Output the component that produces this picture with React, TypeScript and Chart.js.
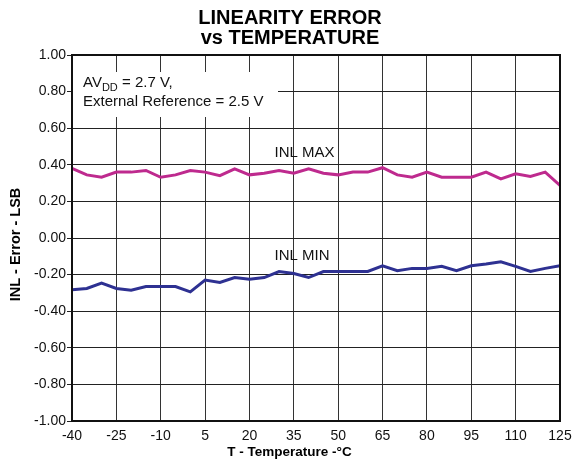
import { useEffect, useRef } from "react";
import { Chart, registerables } from "chart.js";

Chart.register(...registerables);

const TEMPS = [-40, -35, -30, -25, -20, -15, -10, -5, 0, 5, 10, 15, 20, 25, 30, 35, 40, 45, 50, 55, 60, 65, 70, 75, 80, 85, 90, 95, 100, 105, 110, 115, 120, 125];
const INL_MAX = [0.38, 0.345, 0.332, 0.36, 0.36, 0.369, 0.332, 0.345, 0.369, 0.36, 0.341, 0.378, 0.345, 0.354, 0.369, 0.354, 0.378, 0.354, 0.345, 0.36, 0.36, 0.384, 0.345, 0.332, 0.36, 0.332, 0.332, 0.332, 0.36, 0.323, 0.351, 0.336, 0.36, 0.287];
const INL_MIN = [-0.283, -0.276, -0.247, -0.276, -0.285, -0.265, -0.265, -0.265, -0.294, -0.23, -0.243, -0.216, -0.225, -0.216, -0.183, -0.194, -0.216, -0.183, -0.183, -0.183, -0.183, -0.152, -0.179, -0.166, -0.166, -0.155, -0.179, -0.152, -0.142, -0.13, -0.155, -0.183, -0.166, -0.152];
const X_TICKS = [-40, -25, -10, 5, 20, 35, 50, 65, 80, 95, 110, 125];
const Y_TICKS = [-1, -0.8, -0.6, -0.4, -0.2, 0, 0.2, 0.4, 0.6, 0.8, 1];
const TITLE_LINES = ["LINEARITY ERROR", "vs TEMPERATURE"];
const X_TITLE = "T - Temperature -°C";
const Y_TITLE = "INL - Error - LSB";
const SERIES_NAMES = ["INL MAX", "INL MIN"];

const FONT = "'Liberation Sans', Arial, Helvetica, sans-serif";

const annotPlugin = {
  id: "annot",
  beforeDatasetsDraw(chart: any) {
    const { ctx, chartArea: a } = chart;
    ctx.save();
    ctx.fillStyle = "#ffffff";
    ctx.fillRect(a.left + 1, a.top + 17, 205, 45);
    ctx.restore();
  },
  afterDatasetsDraw(chart: any) {
    const { ctx, chartArea: a, scales } = chart;
    const xs = scales.x;
    const ys = scales.y;
    ctx.save();
    // frame
    ctx.strokeStyle = "#111";
    ctx.lineWidth = 2;
    ctx.strokeRect(a.left, a.top, a.right - a.left, a.bottom - a.top);

    ctx.fillStyle = "#111";
    ctx.textBaseline = "alphabetic";
    ctx.textAlign = "left";
    // condition note
    const x0 = a.left + 11;
    ctx.font = `15px ${FONT}`;
    ctx.fillText("AV", x0, a.top + 32);
    let w = ctx.measureText("AV").width;
    ctx.font = `11px ${FONT}`;
    ctx.fillText("DD", x0 + w, a.top + 36);
    w += ctx.measureText("DD").width;
    ctx.font = `15px ${FONT}`;
    ctx.fillText(" = 2.7 V,", x0 + w, a.top + 32);
    ctx.fillText("External Reference = 2.5 V", x0, a.top + 51);

    // series labels
    ctx.fillText(SERIES_NAMES[0], xs.getPixelForValue(28.5), ys.getPixelForValue(0.445));
    ctx.fillText(SERIES_NAMES[1], xs.getPixelForValue(28.5), ys.getPixelForValue(-0.12));

    // axis titles
    ctx.fillStyle = "#000";
    ctx.font = `bold 13.5px ${FONT}`;
    ctx.textAlign = "center";
    ctx.fillText(X_TITLE, 289.5, 456);

    ctx.translate(20, 244.5);
    ctx.rotate(-Math.PI / 2);
    ctx.font = `bold 14.5px ${FONT}`;
    ctx.fillText(Y_TITLE, 0, 0);
    ctx.restore();
  },
};

export default function App() {
  const ref = useRef<HTMLCanvasElement | null>(null);

  useEffect(() => {
    if (!ref.current) return;
    const chart = new Chart(ref.current, {
      type: "line",
      data: {
        datasets: [
          {
            label: SERIES_NAMES[0],
            data: TEMPS.map((t, i) => ({ x: t, y: INL_MAX[i] })),
            borderColor: "#BE2A8E",
            borderWidth: 3,
            pointRadius: 0,
            tension: 0,
          },
          {
            label: SERIES_NAMES[1],
            data: TEMPS.map((t, i) => ({ x: t, y: INL_MIN[i] })),
            borderColor: "#2E3192",
            borderWidth: 3,
            pointRadius: 0,
            tension: 0,
          },
        ],
      },
      options: {
        animation: false,
        responsive: false,
        layout: { padding: { left: 20, right: 14, top: 0, bottom: 0 } },
        plugins: {
          legend: { display: false },
          tooltip: { enabled: false },
          title: {
            display: true,
            text: TITLE_LINES,
            color: "#000",
            font: { size: 20, weight: "bold", family: FONT, lineHeight: 1 },
            padding: { top: 8, bottom: 7 },
          },
        },
        scales: {
          x: {
            type: "linear",
            position: "bottom",
            min: -40,
            max: 125,
            afterBuildTicks: (s: any) => {
              s.ticks = X_TICKS.map((v) => ({ value: v }));
            },
            afterFit: (s: any) => {
              s.height = 41;
              s.paddingLeft = 0;
              s.paddingRight = 0;
            },
            grid: { color: "#333", lineWidth: 1, drawTicks: false },
            border: { display: false },
            ticks: {
              color: "#111",
              font: { size: 14, family: FONT },
              padding: 7,
              maxRotation: 0,
              autoSkip: false,
              callback: (v: any) => String(v),
            },
          },
          y: {
            type: "linear",
            min: -1,
            max: 1,
            afterBuildTicks: (s: any) => {
              s.ticks = Y_TICKS.map((v) => ({ value: v }));
            },
            afterFit: (s: any) => {
              s.width = 52;
              s.paddingTop = 0;
              s.paddingBottom = 0;
            },
            grid: { color: "#222", lineWidth: 1, drawTicks: true, tickLength: 5 },
            border: { display: false },
            ticks: {
              color: "#111",
              font: { size: 14, family: FONT },
              padding: 1,
              autoSkip: false,
              callback: (v: any) => Number(v).toFixed(2),
            },
          },
        },
      },
      plugins: [annotPlugin],
    });
    return () => chart.destroy();
  }, []);

  return (
    <div style={{ position: "absolute", left: 0, top: 0, width: 574, height: 462, background: "#fff" }}>
      <canvas ref={ref} width={574} height={462} style={{ width: 574, height: 462, display: "block" }} />
    </div>
  );
}
